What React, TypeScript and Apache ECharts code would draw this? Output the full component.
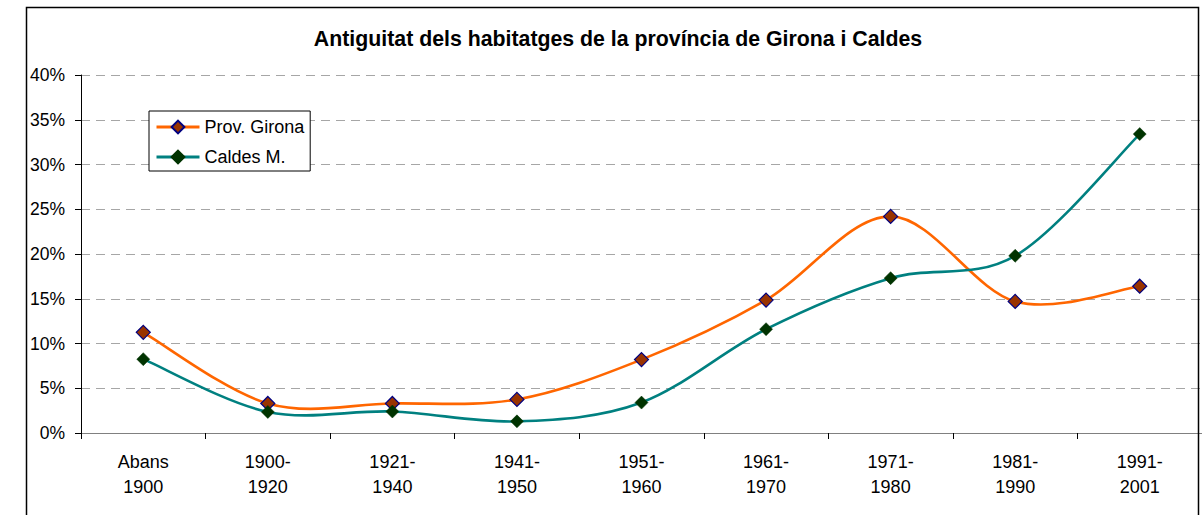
import React, { useEffect, useRef } from 'react';
import * as echarts from 'echarts';

const categories = [
  'Abans\n1900',
  '1900-\n1920',
  '1921-\n1940',
  '1941-\n1950',
  '1951-\n1960',
  '1961-\n1970',
  '1971-\n1980',
  '1981-\n1990',
  '1991-\n2001',
];
const provGirona = [11.25, 3.3, 3.3, 3.75, 8.2, 14.85, 24.2, 14.7, 16.4];
const caldesM = [8.25, 2.35, 2.4, 1.3, 3.4, 11.6, 17.3, 19.8, 33.4];
const seriesNames = ['Prov. Girona', 'Caldes M.'];
const titleText = 'Antiguitat dels habitatges de la província de Girona i Caldes';

const FONT = '"Liberation Sans", Arial, sans-serif';
const ORANGE = '#FF6600';
const TEAL = '#008080';

// Excel-style smoothed line (Catmull-Rom bezier), drawn through the axes' scales
function curveRenderer(values: number[], color: string) {
  return (params: any, api: any) => {
    const i = params.dataIndex;
    const n = values.length;
    if (i >= n - 1) return { type: 'group', children: [] };
    const P = (k: number) => {
      const kk = Math.max(0, Math.min(n - 1, k));
      return api.coord([kk, values[kk]]);
    };
    const p0 = P(i - 1);
    const p1 = P(i);
    const p2 = P(i + 1);
    const p3 = P(i + 2);
    const c1 = [p1[0] + (p2[0] - p0[0]) / 6, p1[1] + (p2[1] - p0[1]) / 6];
    const c2 = [p2[0] - (p3[0] - p1[0]) / 6, p2[1] - (p3[1] - p1[1]) / 6];
    return {
      type: 'bezierCurve',
      shape: {
        x1: p1[0],
        y1: p1[1],
        x2: p2[0],
        y2: p2[1],
        cpx1: c1[0],
        cpy1: c1[1],
        cpx2: c2[0],
        cpy2: c2[1],
      },
      style: { stroke: color, lineWidth: 2.6, fill: null, lineCap: 'round' },
      silent: true,
    };
  };
}

export default function App() {
  const ref = useRef<HTMLDivElement>(null);
  useEffect(() => {
    if (!ref.current) return;
    const chart = echarts.init(ref.current, undefined, { renderer: 'svg' });
    chart.setOption({
      animation: false,
      backgroundColor: '#fff',
      textStyle: { fontFamily: FONT },
      title: {
        text: titleText,
        left: 613,
        top: 23,
        textAlign: 'center',
        textStyle: { fontFamily: FONT, fontSize: 21.3, fontWeight: 'bold', color: '#000' },
      },
      graphic: [
        {
          type: 'rect',
          shape: { x: 26.5, y: 7.5, width: 1172, height: 600 },
          style: { fill: 'none', stroke: '#000', lineWidth: 1.5 },
          z: 100,
          silent: true,
        },
      ],
      legend: {
        orient: 'vertical',
        left: 149,
        top: 111,
        padding: [7, 6, 5, 6],
        itemGap: 12,
        itemWidth: 43,
        itemHeight: 16,
        borderColor: '#000',
        borderWidth: 1,
        backgroundColor: '#fff',
        textStyle: { fontFamily: FONT, fontSize: 18, color: '#000' },
        data: [
          { name: seriesNames[0], lineStyle: { color: ORANGE, width: 3, opacity: 1 } },
          { name: seriesNames[1], lineStyle: { color: TEAL, width: 3, opacity: 1 } },
        ],
      },
      grid: { left: 81, top: 75, width: 1121, height: 358, containLabel: false },
      xAxis: {
        type: 'category',
        data: categories,
        boundaryGap: true,
        axisLine: { show: true, lineStyle: { color: '#808080', width: 1 } },
        axisTick: { show: true, length: 6, interval: 0, lineStyle: { color: '#000' } },
        axisLabel: {
          interval: 0,
          margin: 16,
          color: '#000',
          fontFamily: FONT,
          fontSize: 18,
          lineHeight: 25,
        },
        splitLine: { show: false },
      },
      yAxis: {
        type: 'value',
        min: 0,
        max: 40,
        interval: 5,
        axisLine: { show: true, lineStyle: { color: '#000', width: 1 } },
        axisTick: { show: true, length: 6, lineStyle: { color: '#000' } },
        axisLabel: {
          formatter: '{value}%',
          margin: 16,
          color: '#000',
          fontFamily: FONT,
          fontSize: 17.5,
        },
        splitLine: {
          show: true,
          lineStyle: { color: '#a6a6a6', type: [9, 6], width: 1 },
        },
      },
      series: [
        {
          name: 'curve-prov',
          type: 'custom',
          data: provGirona.map((v, i) => [i, v]),
          encode: { x: 0, y: 1 },
          renderItem: curveRenderer(provGirona, ORANGE),
          z: 2,
        },
        {
          name: 'curve-caldes',
          type: 'custom',
          data: caldesM.map((v, i) => [i, v]),
          encode: { x: 0, y: 1 },
          renderItem: curveRenderer(caldesM, TEAL),
          z: 2,
        },
        {
          name: seriesNames[0],
          type: 'line',
          data: provGirona,
          symbol: 'diamond',
          symbolSize: 14,
          lineStyle: { color: ORANGE, width: 3, opacity: 0 },
          itemStyle: { color: '#993300', borderColor: '#000080', borderWidth: 1.2 },
          z: 3,
        },
        {
          name: seriesNames[1],
          type: 'line',
          data: caldesM,
          symbol: 'diamond',
          symbolSize: 13,
          lineStyle: { color: TEAL, width: 3, opacity: 0 },
          itemStyle: { color: '#003300', borderColor: '#003300', borderWidth: 0.5 },
          z: 3,
        },
      ],
    });
    return () => chart.dispose();
  }, []);
  return (
    <div
      ref={ref}
      style={{ position: 'absolute', left: 0, top: 0, width: 1202, height: 515, background: '#fff' }}
    />
  );
}
